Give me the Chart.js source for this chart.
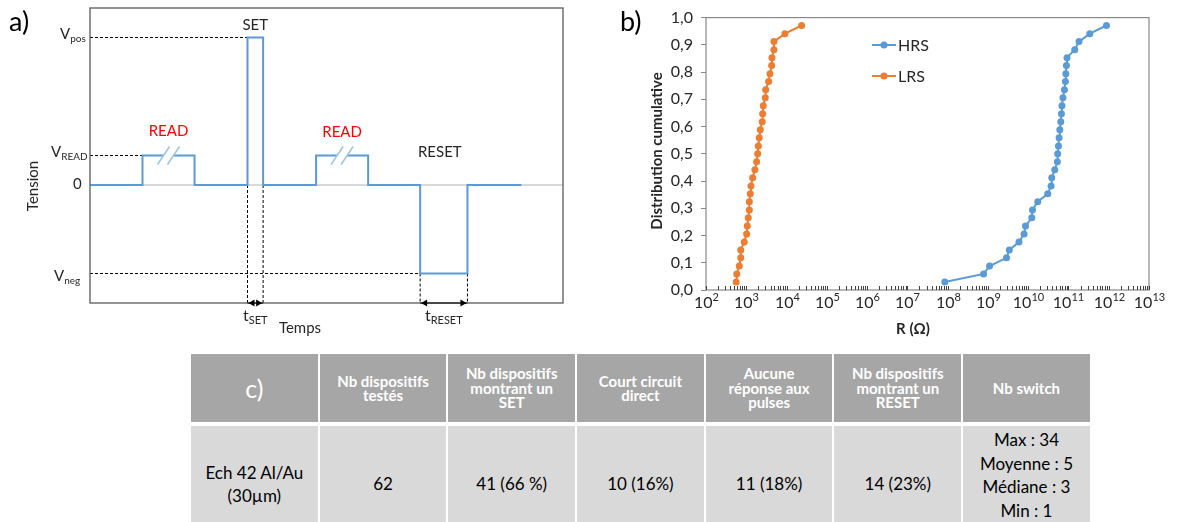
<!DOCTYPE html>
<html>
<head>
<meta charset="utf-8">
<script src="https://cdn.jsdelivr.net/npm/chart.js@4.4.0/dist/chart.umd.min.js"></script>
<style>
	body { margin:0; background:#fff; width:1177px; height:522px; overflow:hidden; position:relative; font-family:Lato, sans-serif; }
	#pulse { position:absolute; left:0; top:0; }
	#cdf { position:absolute; left:600px; top:0; }
	#tab { position:absolute; left:189px; top:350px; border-collapse:separate; border-spacing:2px 4px; table-layout:fixed; }
	#tab td { width:126.7px; text-align:center; padding:0; }
	#tab tr.h td { background:#a6a6a6; color:#fff; font-weight:bold; font-size:15px; line-height:14.5px; height:68px; }
	#tab tr.h td.first { font-weight:normal; font-size:25px; }
	#tab tr.b td { background:#d9d9d9; color:#000; font-size:17px; line-height:23.5px; height:116px; }
	#tab tr.b td.last { vertical-align:top; padding-top:2px; height:114px; }
</style>
</head>
<body>
<canvas id="pulse" width="600" height="345"></canvas>
<canvas id="cdf" width="577" height="345"></canvas>
<table id="tab"></table>
<script>
// ---- a) pulse sequence
var signalTimes  = [0, 11.1, 22.1, 33.3, 36.6, 47.8, 58.8, 69.8, 79.8, 91.2];
var signalLevels = [0, 0.2, 0, 1, 0, 0.2, 0, -0.6, 0, 0];
var pulseNames   = ["READ", "SET", "READ", "RESET"];
var pulseStart   = [11.1, 33.3, 47.8, 69.8];
var pulseEnd     = [22.1, 36.6, 58.8, 79.8];
var pulseLevel   = [0.2, 1, 0.2, -0.6];
var levelValues  = [1, 0.2, 0, -0.6];
var levelNames   = [["V", "pos"], ["V", "READ"], ["0", ""], ["V", "neg"]];
var timeRange    = [0, 100];
var voltRange    = [-0.8, 1.2];

// ---- b) cumulative distribution
var cumProb = [0.029, 0.059, 0.088, 0.118, 0.147, 0.176, 0.206, 0.235, 0.265, 0.294, 0.324,
	0.353, 0.382, 0.412, 0.441, 0.471, 0.5, 0.529, 0.559, 0.588, 0.618, 0.647,
	0.676, 0.706, 0.735, 0.765, 0.794, 0.824, 0.853, 0.882, 0.912, 0.941, 0.971];
var hrsOhm = [8.5e7, 7.8e8, 1.1e9, 2.9e9, 3.4e9, 5.9e9, 7.9e9, 8.6e9, 1.23e10, 1.28e10, 1.73e10,
	3.06e10, 3.7e10, 3.85e10, 4.57e10, 5.3e10, 5.4e10, 5.65e10, 5.85e10, 6.1e10, 6.45e10, 6.7e10,
	6.9e10, 7.3e10, 7.95e10, 8.4e10, 8.6e10, 8.9e10, 9.2e10, 1.43e11, 1.83e11, 3.4e11, 8.8e11];
var lrsOhm = [560, 580, 670, 730, 730, 890, 1020, 1060, 1120, 1190, 1190,
	1260, 1310, 1440, 1640, 1810, 1920, 1990, 2100, 2230, 2490, 2550,
	2640, 2960, 3030, 3590, 3870, 4270, 4340, 4870, 4870, 9100, 23700];
var rDecades = [2, 3, 4, 5, 6, 7, 8, 9, 10, 11, 12, 13];
var seriesNames = ["HRS", "LRS"];
var seriesColors = ["#5b9bd5", "#ed7d31"];

// ---- c) table
var tableHeader = ["c)", "Nb dispositifs<br>testés", "Nb dispositifs<br>montrant un<br>SET", "Court circuit<br>direct",
	"Aucune<br>réponse aux<br>pulses", "Nb dispositifs<br>montrant un<br>RESET", "Nb switch"];
var tableRow = ["Ech 42 Al/Au<br>(30µm)", "62", "41 (66 %)", "10 (16%)", "11 (18%)", "14 (23%)",
	"Max : 34<br>Moyenne : 5<br>Médiane : 3<br>Min : 1"];

var FONT = "Lato, sans-serif";

function subText(ctx, x, y, main, sub, size, align, up)
{
	ctx.font = size + "px " + FONT;
	var w1 = ctx.measureText(main).width;
	var small = Math.round(size * 0.68);
	ctx.font = small + "px " + FONT;
	var w2 = ctx.measureText(sub).width;
	var x0 = align == "center" ? x - (w1 + w2) / 2 : x;
	ctx.textAlign = "left";
	ctx.textBaseline = "middle";
	ctx.font = size + "px " + FONT;
	ctx.fillText(main, x0, y);
	ctx.font = small + "px " + FONT;
	ctx.fillText(sub, x0 + w1, up ? y - size * 0.35 : y + size * 0.3);
}

function seg(x1, y1, x2, y2)
{
	return [{x: x1, y: y1}, {x: x2, y: y2}];
}

// dashed guides built from the pulse arrays
var guides = [];
levelValues.forEach(function(v)
{
	if (v == 0) return;
	var i = pulseLevel.indexOf(v);
	guides.push(seg(timeRange[0], v, pulseStart[i], v));
});
pulseNames.forEach(function(n, i)
{
	if (n == "READ") return;
	var top = Math.min(0, pulseLevel[i]);
	guides.push(seg(pulseStart[i], top, pulseStart[i], voltRange[0]));
	guides.push(seg(pulseEnd[i], top, pulseEnd[i], voltRange[0]));
});

var pulseDatasets = [{
	data: seg(timeRange[0], 0, timeRange[1], 0),
	borderColor: "#d9d9d9", borderWidth: 2, pointRadius: 0, order: 3
}, {
	data: signalTimes.map(function(t, i) { return {x: t, y: signalLevels[i]}; }),
	borderColor: "#5b9bd5", borderWidth: 2, pointRadius: 0, stepped: "before", order: 1
}];
guides.forEach(function(g)
{
	pulseDatasets.push({data: g, borderColor: "#000", borderWidth: 1, borderDash: [3, 2], pointRadius: 0, order: 2});
});

var pulseDecor = {
	id: "pulseDecor",
	afterDatasetsDraw: function(chart)
	{
		var ctx = chart.ctx, a = chart.chartArea, sx = chart.scales.x, sy = chart.scales.y;
		ctx.save();
		ctx.strokeStyle = "#595959";
		ctx.lineWidth = 1.3;
		ctx.strokeRect(a.left, a.top, a.right - a.left, a.bottom - a.top);

		// pulse names and break marks
		var labelDy = [-24, -12, -23, -121];
		var labelDx = [0, 0, 0, -4];
		pulseNames.forEach(function(n, i)
		{
			var cx = sx.getPixelForValue((pulseStart[i] + pulseEnd[i]) / 2);
			var py = sy.getPixelForValue(pulseLevel[i]);
			ctx.fillStyle = n == "READ" ? "#ff0000" : "#262626";
			ctx.font = "15px " + FONT;
			ctx.textAlign = "center";
			ctx.textBaseline = "middle";
			ctx.fillText(n, cx + labelDx[i], py + labelDy[i]);
			if (n == "READ")
			{
				ctx.fillStyle = "#fff";
				ctx.fillRect(cx - 5, py - 2, 10, 4);
				ctx.strokeStyle = "#9dc3e6";
				ctx.lineWidth = 1.5;
				[-5, 5].forEach(function(o)
				{
					ctx.beginPath();
					ctx.moveTo(cx + o - 6, py + 9);
					ctx.lineTo(cx + o + 6, py - 9);
					ctx.stroke();
				});
			}
			else
			{
				// duration arrows on the bottom axis
				var x1 = sx.getPixelForValue(pulseStart[i]), x2 = sx.getPixelForValue(pulseEnd[i]);
				var by = sy.getPixelForValue(voltRange[0]);
				ctx.strokeStyle = "#000";
				ctx.lineWidth = 1;
				ctx.beginPath(); ctx.moveTo(x1, by); ctx.lineTo(x2, by); ctx.stroke();
				ctx.fillStyle = "#000";
				ctx.beginPath(); ctx.moveTo(x1 + 1, by); ctx.lineTo(x1 + 7, by - 3.5); ctx.lineTo(x1 + 7, by + 3.5); ctx.fill();
				ctx.beginPath(); ctx.moveTo(x2 - 1, by); ctx.lineTo(x2 - 7, by - 3.5); ctx.lineTo(x2 - 7, by + 3.5); ctx.fill();
				ctx.fillStyle = "#262626";
				subText(ctx, (x1 + x2) / 2, by + 13, "t", n, 16, "center");
			}
		});

		// level names on the left
		var levelX = [60, 51, 73, 54];
		var levelDy = [-3, -3, -1, 3];
		levelValues.forEach(function(v, i)
		{
			ctx.fillStyle = "#262626";
			subText(ctx, levelX[i], sy.getPixelForValue(v) + levelDy[i], levelNames[i][0], levelNames[i][1], 15, "left");
		});

		ctx.fillStyle = "#262626";
		ctx.font = "15px " + FONT;
		ctx.textAlign = "center";
		ctx.textBaseline = "middle";
		ctx.fillText("Temps", 300, 328);
		ctx.save();
		ctx.translate(33, 186);
		ctx.rotate(-Math.PI / 2);
		ctx.fillText("Tension", 0, 0);
		ctx.restore();
		ctx.font = "27px " + FONT;
		ctx.textAlign = "left";
		ctx.fillStyle = "#000";
		ctx.fillText("a)", 9, 22);
		ctx.restore();
	}
};

new Chart("pulse", {
	type: "line",
	data: {datasets: pulseDatasets},
	options: {
		responsive: false, animation: false, devicePixelRatio: 1,
		layout: {padding: {left: 90, top: 8, right: 37, bottom: 42}},
		plugins: {legend: {display: false}, tooltip: {enabled: false}},
		scales: {
			x: {type: "linear", display: false, min: timeRange[0], max: timeRange[1]},
			y: {type: "linear", display: false, min: voltRange[0], max: voltRange[1]}
		}
	},
	plugins: [pulseDecor]
});

// ---- b)
var cdfDecor = {
	id: "cdfDecor",
	afterDraw: function(chart)
	{
		var ctx = chart.ctx, a = chart.chartArea, sx = chart.scales.x;
		ctx.save();
		ctx.strokeStyle = "#898989";
		ctx.lineWidth = 1.2;
		ctx.strokeRect(a.left, a.top, a.right - a.left, a.bottom - a.top);

		ctx.strokeStyle = "#404040";
		ctx.lineWidth = 1;
		ctx.fillStyle = "#262626";
		sx.ticks.forEach(function(t)
		{
			var px = Math.round(sx.getPixelForValue(t.value)) + 0.5;
			ctx.beginPath(); ctx.moveTo(px, a.bottom); ctx.lineTo(px, a.bottom - 4); ctx.stroke();
			var e = Math.log10(t.value);
			if (Math.abs(e - Math.round(e)) < 1e-6)
				subText(ctx, px, a.bottom + 13, "10", String(Math.round(e)), 16, "center", true);
		});

		// legend
		chart.data.datasets.forEach(function(ds, i)
		{
			var y = 45 + i * 31, x0 = 272;
			ctx.strokeStyle = ds.borderColor;
			ctx.lineWidth = 2;
			ctx.beginPath(); ctx.moveTo(x0, y); ctx.lineTo(x0 + 24, y); ctx.stroke();
			ctx.fillStyle = ds.borderColor;
			ctx.beginPath(); ctx.arc(x0 + 12, y, 3.5, 0, Math.PI * 2); ctx.fill();
			ctx.fillStyle = "#262626";
			ctx.font = "16px " + FONT;
			ctx.textAlign = "left";
			ctx.textBaseline = "middle";
			ctx.fillText(ds.label, x0 + 26, y + 1);
		});

		ctx.fillStyle = "#262626";
		ctx.font = "bold 15px " + FONT;
		ctx.textAlign = "center";
		ctx.fillText("R (\u03A9)", 313, 329);
		ctx.save();
		ctx.translate(57, 151);
		ctx.rotate(-Math.PI / 2);
		ctx.fillText("Distribution cumulative", 0, 0);
		ctx.restore();
		ctx.font = "27px " + FONT;
		ctx.textAlign = "left";
		ctx.fillStyle = "#000";
		ctx.fillText("b)", 20, 22);
		ctx.restore();
	}
};

new Chart("cdf", {
	type: "scatter",
	data: {
		datasets: [hrsOhm, lrsOhm].map(function(arr, k)
		{
			return {
				label: seriesNames[k],
				data: arr.map(function(r, i) { return {x: r, y: cumProb[i]}; }),
				showLine: true, borderColor: seriesColors[k], backgroundColor: seriesColors[k],
				borderWidth: 2, pointRadius: 3.5, pointBorderWidth: 0
			};
		})
	},
	options: {
		responsive: false, animation: false, devicePixelRatio: 1,
		layout: {padding: {left: 46, top: 13, right: 28, bottom: 55}},
		plugins: {legend: {display: false}, tooltip: {enabled: false}},
		scales: {
			x: {
				type: "logarithmic", min: 1e2, max: 1e13,
				grid: {display: false}, border: {display: false}, ticks: {display: false},
				afterBuildTicks: function(s)
				{
					var t = [];
					rDecades.forEach(function(d)
					{
						for (var k = 1; k < 10; k++)
						{
							var v = k * Math.pow(10, d);
							if (v <= s.max * 1.0001) t.push({value: v});
						}
					});
					s.ticks = t;
				},
				afterFit: function(s) { s.height = 0; }
			},
			y: {
				min: 0, max: 1,
				grid: {drawOnChartArea: false, tickLength: 5, color: "#898989"},
				border: {display: false},
				ticks: {
					stepSize: 0.1, padding: 8, color: "#262626", font: {family: FONT, size: 16},
					callback: function(v) { return v.toFixed(1).replace(".", ","); }
				},
				afterFit: function(s) { s.width = 60; }
			}
		}
	},
	plugins: [cdfDecor]
});

// ---- c)
var tab = document.getElementById("tab");
[[tableHeader, "h"], [tableRow, "b"]].forEach(function(r)
{
	var tr = document.createElement("tr");
	tr.className = r[1];
	r[0].forEach(function(txt, i)
	{
		var td = document.createElement("td");
		td.innerHTML = txt;
		if (i == 0) td.className = "first";
		if (i == r[0].length - 1) td.className = "last";
		tr.appendChild(td);
	});
	tab.appendChild(tr);
});
</script>
</body>
</html>
